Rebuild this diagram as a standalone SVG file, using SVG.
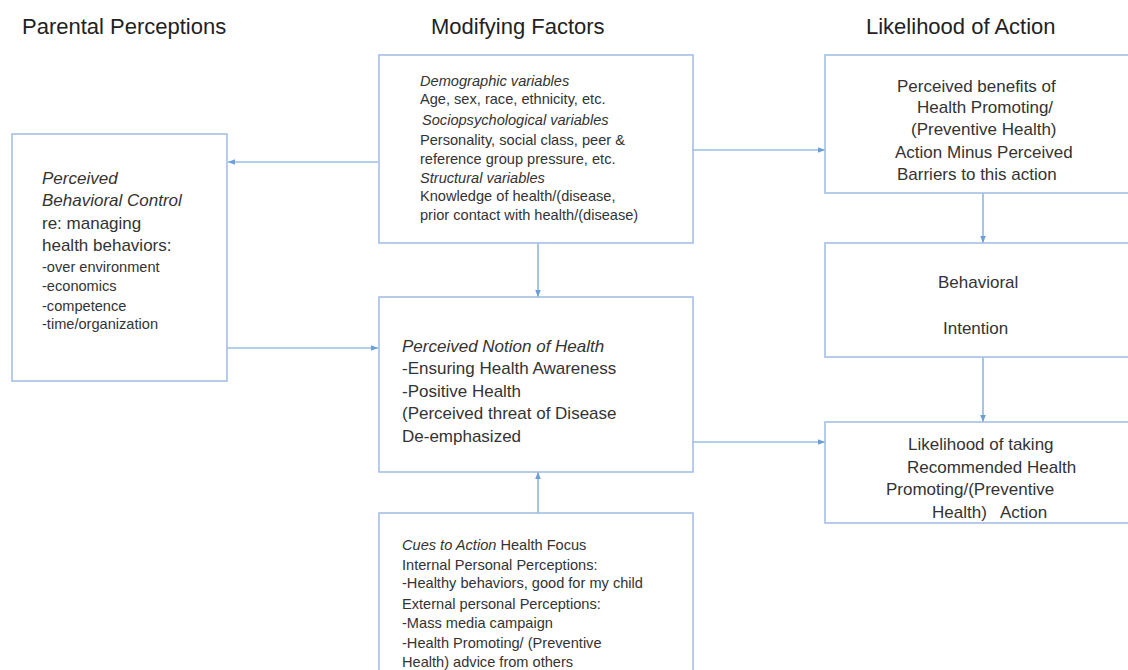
<svg xmlns="http://www.w3.org/2000/svg" width="1128" height="670" viewBox="0 0 1128 670">
<style>
.box{fill:#fff;stroke:#9dbde3;stroke-width:1.5}
.ln{stroke:#6a9fd8;stroke-width:1.2;fill:none}
text{font-family:"Liberation Sans",Arial,sans-serif;fill:#333}
.h{font-size:22px;fill:#222}
.b{font-size:17px}
.s{font-size:14.6px}
.i{font-style:italic}
</style>
<defs>
<marker id="ar" viewBox="0 0 10 10" refX="10" refY="5" markerWidth="7" markerHeight="7" markerUnits="userSpaceOnUse" orient="auto">
<path d="M0,1 L10,5 L0,9 z" fill="#6a9fd8"/>
</marker>
</defs>
<rect width="1128" height="670" fill="#fff"/>
<g id="headers">
<text class="h" x="22" y="34">Parental Perceptions</text>
<text class="h" x="431" y="34">Modifying Factors</text>
<text class="h" x="866" y="34">Likelihood of Action</text>
</g>
<g id="connectors">
<line class="ln" x1="378" y1="162" x2="228" y2="162" marker-end="url(#ar)"/>
<line class="ln" x1="693" y1="150" x2="825" y2="150" marker-end="url(#ar)"/>
<line class="ln" x1="538" y1="243" x2="538" y2="297" marker-end="url(#ar)"/>
<line class="ln" x1="220" y1="348" x2="378" y2="348" marker-end="url(#ar)"/>
<line class="ln" x1="692" y1="442" x2="825" y2="442" marker-end="url(#ar)"/>
<line class="ln" x1="538" y1="513" x2="538" y2="472" marker-end="url(#ar)"/>
<line class="ln" x1="983" y1="193" x2="983" y2="243" marker-end="url(#ar)"/>
<line class="ln" x1="983" y1="357" x2="983" y2="422" marker-end="url(#ar)"/>
</g>
<g id="pbc">
<rect class="box" x="12" y="134" width="215" height="247"/>
<text class="b i" x="42" y="184">Perceived</text>
<text class="b i" x="42" y="206">Behavioral Control</text>
<text class="b" x="42" y="229">re: managing</text>
<text class="b" x="42" y="251">health behaviors:</text>
<text class="s" x="42" y="272">-over environment</text>
<text class="s" x="42" y="291">-economics</text>
<text class="s" x="42" y="311">-competence</text>
<text class="s" x="42" y="329">-time/organization</text>
</g>
<g id="modifying">
<rect class="box" x="379" y="55" width="314" height="188"/>
<text class="s i" x="420" y="86">Demographic variables</text>
<text class="s" x="420" y="104">Age, sex, race, ethnicity, etc.</text>
<text class="s i" x="422" y="125">Sociopsychological variables</text>
<text class="s" x="420" y="145">Personality, social class, peer &amp;</text>
<text class="s" x="420" y="164">reference group  pressure, etc.</text>
<text class="s i" x="420" y="183">Structural variables</text>
<text class="s" x="420" y="201">Knowledge of health/(disease,</text>
<text class="s" x="420" y="220">prior contact with health/(disease)</text>
</g>
<g id="notion">
<rect class="box" x="379" y="297" width="314" height="175"/>
<text class="b i" x="402" y="352">Perceived Notion of Health</text>
<text class="b" x="402" y="374">-Ensuring Health Awareness</text>
<text class="b" x="402" y="397">-Positive Health</text>
<text class="b" x="402" y="419">(Perceived threat of Disease</text>
<text class="b" x="402" y="442">De-emphasized</text>
</g>
<g id="cues">
<rect class="box" x="379" y="513" width="314" height="170"/>
<text class="s" x="402" y="550"><tspan font-style="italic">Cues to Action</tspan> Health Focus</text>
<text class="s" x="402" y="570">Internal Personal Perceptions:</text>
<text class="s" x="402" y="588">-Healthy behaviors, good for my child</text>
<text class="s" x="402" y="609">External personal Perceptions:</text>
<text class="s" x="402" y="628">-Mass media campaign</text>
<text class="s" x="402" y="648">-Health Promoting/  (Preventive</text>
<text class="s" x="402" y="667">Health) advice from others</text>
</g>
<g id="benefits">
<rect class="box" x="825" y="55" width="320" height="138"/>
<text class="b" x="897" y="92">Perceived benefits of</text>
<text class="b" x="917" y="113">Health Promoting/</text>
<text class="b" x="911" y="135">(Preventive Health)</text>
<text class="b" x="895" y="158">Action Minus Perceived</text>
<text class="b" x="897" y="180">Barriers to this action</text>
</g>
<g id="intention">
<rect class="box" x="825" y="243" width="320" height="114"/>
<text class="b" x="938" y="288">Behavioral</text>
<text class="b" x="943" y="334">Intention</text>
</g>
<g id="likelihood">
<rect class="box" x="825" y="422" width="320" height="101"/>
<text class="b" x="908" y="450">Likelihood of taking</text>
<text class="b" x="907" y="473">Recommended Health</text>
<text class="b" x="886" y="495">Promoting/(Preventive</text>
<text class="b" x="932" y="518" xml:space="preserve">Health)   Action</text>
</g>
</svg>
